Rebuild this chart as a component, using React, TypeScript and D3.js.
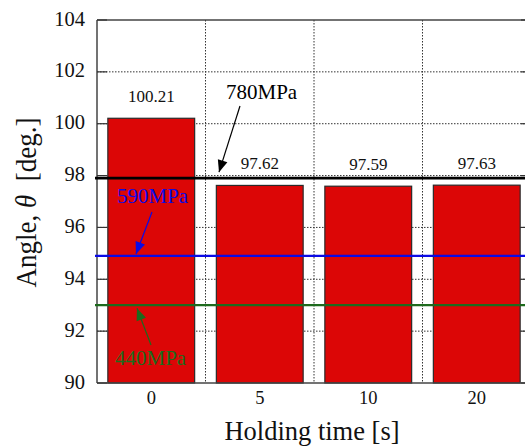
import React from "react";
import * as d3 from "d3";

const categories = ["0", "5", "10", "20"];
const angles = [100.21, 97.62, 97.59, 97.63];
const valueLabels = ["100.21", "97.62", "97.59", "97.63"];
const yTicks = [90, 92, 94, 96, 98, 100, 102, 104];
const refValues = [97.9, 94.9, 93.0];
const refNames = ["780MPa", "590MPa", "440MPa"];
const refColors = ["#000000", "#0a0ae6", "#1d6a1d"];

const W = 525;
const H = 447;
const M = { left: 97, top: 20, right: 531, bottom: 383 };
const FONT = "'Liberation Serif', 'Times New Roman', serif";

export default function App() {
  const x = d3
    .scaleBand<string>()
    .domain(categories)
    .range([M.left, M.right])
    .paddingInner(0.2)
    .paddingOuter(0.1);
  const y = d3.scaleLinear().domain([90, 104]).range([M.bottom, M.top]);
  const step = x.step();
  const boundaries = categories.slice(1).map((c) => (x(c) as number) - step * 0.1);

  const annos = [
    { text: refNames[0], color: refColors[0], tx: 226, ty: 99, from: [240, 106], to: [219, y(refValues[0]) - 6] },
    { text: refNames[1], color: refColors[1], tx: 117, ty: 203, from: [152, 212], to: [136, y(refValues[1]) - 2] },
    { text: refNames[2], color: refColors[2], tx: 115, ty: 365, from: [151, 345], to: [137, y(refValues[2]) + 3] },
  ];

  const arrowHead = (from: number[], to: number[]) => {
    const dx = to[0] - from[0];
    const dy = to[1] - from[1];
    const len = Math.hypot(dx, dy);
    const ux = dx / len, uy = dy / len;
    const hl = 12, hw = 5;
    const bx = to[0] - ux * hl, by = to[1] - uy * hl;
    return `M${to[0]},${to[1]}L${bx - uy * hw},${by + ux * hw}L${bx + uy * hw},${by - ux * hw}Z`;
  };

  return (
    <svg
      width={W}
      height={H}
      style={{ position: "absolute", left: 0, top: 0, background: "#fff" }}
      fontFamily={FONT}
    >
      <rect x={0} y={0} width={W} height={H} fill="#fff" />
      {yTicks
        .filter((t) => t > 90 && t < 104)
        .map((t) => (
          <line key={"hg" + t} x1={M.left} x2={M.right} y1={y(t)} y2={y(t)} stroke="#333" strokeWidth={1} strokeDasharray="1.5,1.5" />
        ))}
      {boundaries.map((bx, i) => (
        <line key={"vg" + i} x1={bx} x2={bx} y1={M.top} y2={M.bottom} stroke="#333" strokeWidth={1} strokeDasharray="1.5,1.5" />
      ))}
      {categories.map((c, i) => (
        <rect
          key={"b" + c}
          x={x(c)}
          y={y(angles[i])}
          width={x.bandwidth()}
          height={y(90) - y(angles[i])}
          fill="#dc0606"
          stroke="#2a2a2a"
          strokeWidth={1.2}
        />
      ))}
      {categories.map((c, i) => (
        <text
          key={"v" + c}
          x={(x(c) as number) + x.bandwidth() / 2}
          y={y(angles[i]) - 16}
          textAnchor="middle"
          fontSize={17}
          fill="#111"
        >
          {valueLabels[i]}
        </text>
      ))}
      <line x1={M.left} x2={M.right} y1={M.top} y2={M.top} stroke="#444" strokeWidth={1.5} />
      <line x1={M.left} x2={M.right} y1={M.bottom} y2={M.bottom} stroke="#444" strokeWidth={1.5} />
      <line x1={M.left} x2={M.left} y1={M.top} y2={M.bottom} stroke="#444" strokeWidth={1.5} />
      <line x1={M.right} x2={M.right} y1={M.top} y2={M.bottom} stroke="#444" strokeWidth={1.5} />
      {yTicks.map((t) => (
        <g key={"yt" + t}>
          <line x1={M.left} x2={M.left + 10} y1={y(t)} y2={y(t)} stroke="#333" strokeWidth={1.2} />
          <line x1={M.right} x2={M.right - 10} y1={y(t)} y2={y(t)} stroke="#333" strokeWidth={1.2} />
          <text x={M.left - 12} y={y(t) + 5.5} textAnchor="end" fontSize={20.5} fill="#111">
            {t}
          </text>
        </g>
      ))}
      {categories.map((c) => (
        <text key={"xt" + c} x={(x(c) as number) + x.bandwidth() / 2} y={404} textAnchor="middle" fontSize={18.5} fill="#111">
          {c}
        </text>
      ))}
      {refValues.map((v, i) => (
        <line key={"r" + i} x1={95} x2={M.right} y1={y(v)} y2={y(v)} stroke={refColors[i]} strokeWidth={i === 0 ? 2.8 : 2.2} />
      ))}
      {annos.map((a, i) => (
        <g key={"a" + i}>
          <text x={a.tx} y={a.ty} fontSize={21} fill={a.color}>
            {a.text}
          </text>
          <line x1={a.from[0]} y1={a.from[1]} x2={a.to[0]} y2={a.to[1]} stroke={a.color} strokeWidth={1.2} />
          <path d={arrowHead(a.from, a.to)} fill={a.color} />
        </g>
      ))}
      <text x={312} y={440} textAnchor="middle" fontSize={26.5} fill="#111">
        Holding time [s]
      </text>
      <text
        transform={`translate(36,${(M.top + M.bottom) / 2 + 1}) rotate(-90) scale(1,1.12)`}
        textAnchor="middle"
        fontSize={27}
        fill="#111"
        style={{ whiteSpace: "pre" }}
      >
        Angle, <tspan fontStyle="italic">θ</tspan>{"  [deg.]"}
      </text>
    </svg>
  );
}
